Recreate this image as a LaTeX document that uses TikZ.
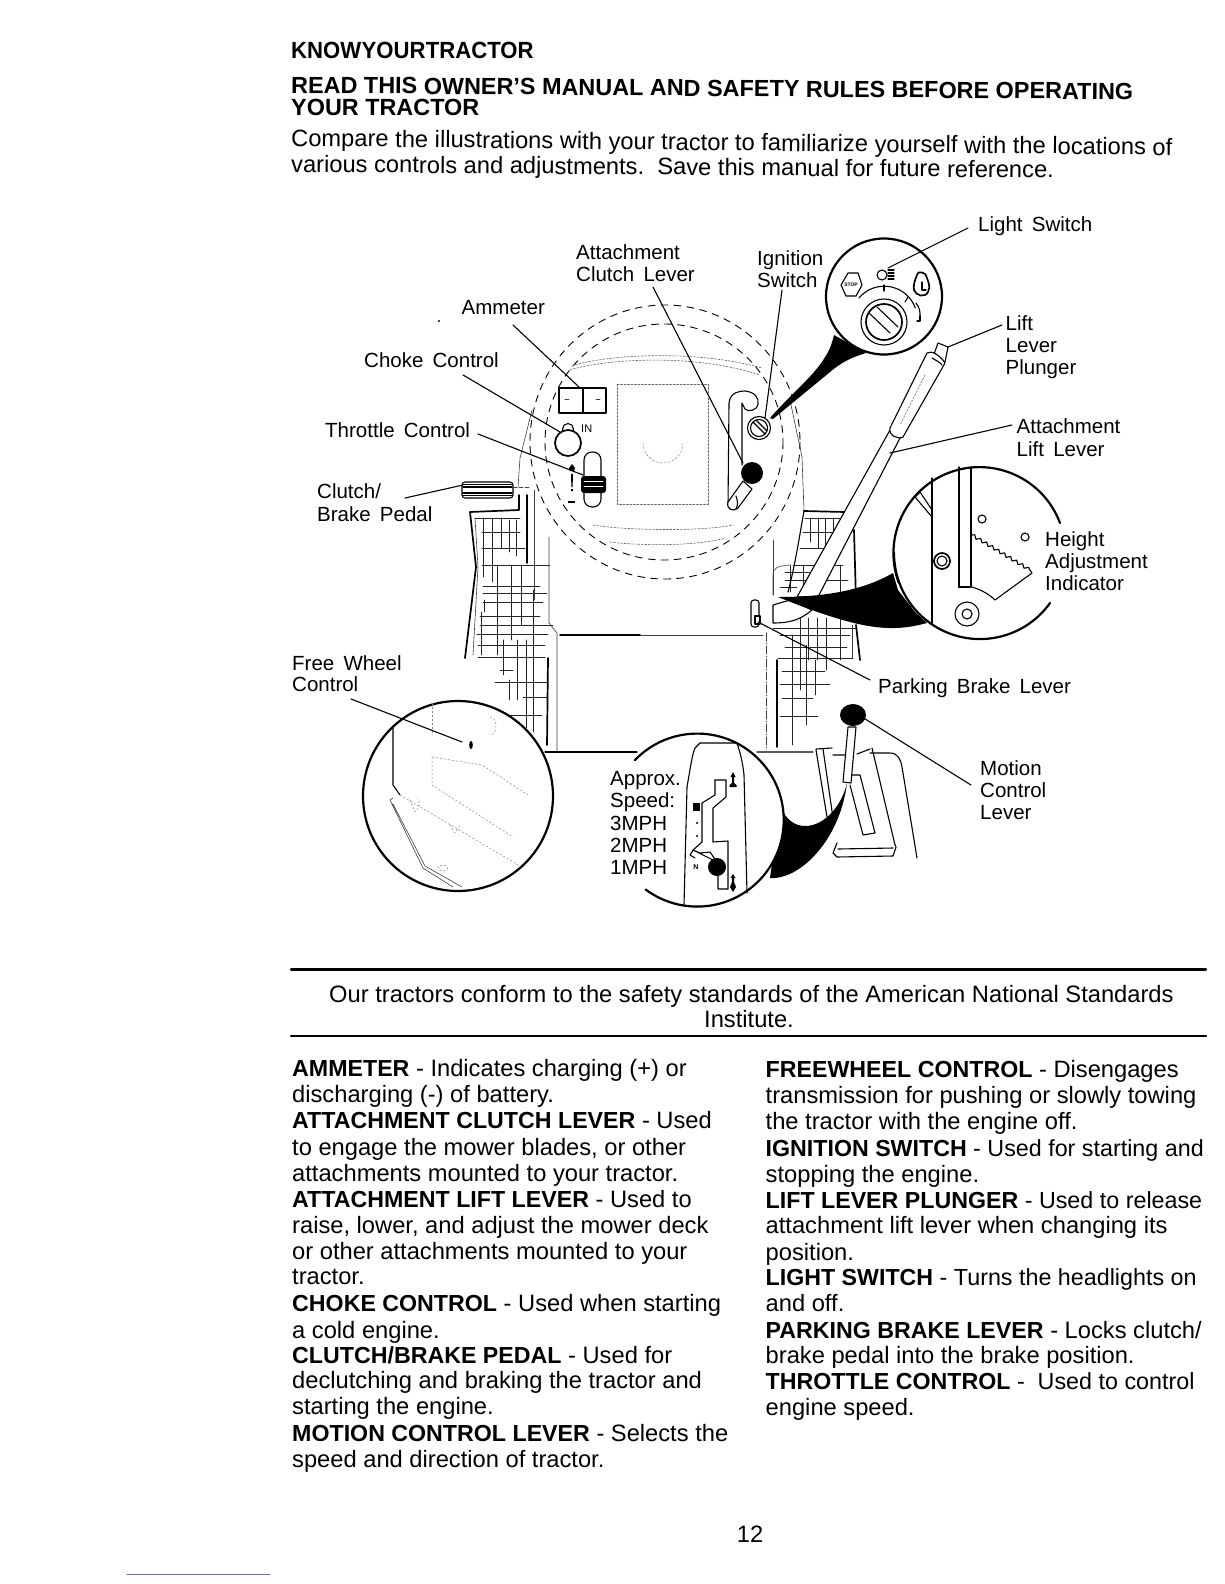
\documentclass[tikz,border=0pt]{standalone}
\usepackage{fontspec}
\setmainfont{Liberation Sans}
\usetikzlibrary{decorations.pathmorphing}
\newcommand\lab[4]{\node[lbl] (#1) at (#2,#3) {\spaceskip=.45em\relax #4};}
\newcommand\bod[4]{\node[bodyt] (#1) at (#2,#3) {#4};}
\newcommand\bodn[4]{\node[bodyt,font=\fontsize{23.3}{26}\selectfont] (#1) at (#2,#3) {#4};}
\newcommand\bb[1]{{\fontsize{23.2}{26}\selectfont\bfseries #1}}
\tikzset{
 lbl/.style={anchor=base west,inner sep=0pt,font=\fontsize{20.5}{22}\selectfont},
 bodyt/.style={anchor=base west,inner sep=0pt,font=\fontsize{23.7}{26}\selectfont},
 head/.style={anchor=base west,inner sep=0pt,font=\fontsize{23.4}{26}\selectfont\bfseries},
 leader/.style={line width=1.1pt},
 thinl/.style={line width=0.6pt,black!75},
 dotl/.style={line width=0.6pt,black!60,dash pattern=on 2pt off 1.5pt},
 faintl/.style={line width=0.5pt,black!45,dash pattern=on 2pt off 2pt},
 ringl/.style={line width=0.9pt,dash pattern=on 7pt off 6pt},
 gridl/.style={line width=0.9pt,black!85},
 lens/.style={line width=2.2pt},
 ink/.style={line width=1.1pt},
 heavy/.style={line width=1.7pt},
 rulel/.style={line width=2.2pt}
}
\begin{document}
\begin{tikzpicture}[x=1pt,y=1pt,yscale=-1,line cap=round,line join=round]
\useasboundingbox (0,0) rectangle (1224,1584);
\fill[white] (0,0) rectangle (1224,1584);
% ---------- left fender grid
\foreach \a/\b/\c in {475/520/518,482/520/532,482/525/548,482/550/565,483/540/586,483/547/593,483/543/602,480/540/616,480/553/625,477/548/634,478/545/645,478/545/657,500/513/670,495/547/682,523/547/697,507/542/715}
  \draw[gridl] (\a,\c)--(\b,\c);
\foreach \a/\b/\c in {483/518/577,492/518/582,501/518/548,509/520/552,516/520/556,497/565/655,511/565/640,503/640/675,517/640/700,509/680/700,526/640/728,533/590/732,484/600/612,521/565/625,481/612/655}
  \draw[gridl] (\a,\b)--(\a,\c);
% ---------- right fender grid
\foreach \a/\b/\c in {805/843/518,803/840/532,800/830/548,793/843/565,785/825/572,785/848/580,780/797/587,773/857/628,780/850/635,785/847/647,778/853/658,782/825/671,780/830/684,782/813/698,780/818/716}
  \draw[gridl] (\a,\c)--(\b,\c);
\foreach \a/\b/\c in {810/518/542,818/518/548,825/518/548,833/518/540,790/565/592,803/565/590,840/565/600,800/618/665,808/618/660,817/618/660,826/618/670,840/610/660,792/635/745,800/660/690,806/645/725,815/660/695}
  \draw[gridl] (\a,\b)--(\a,\c);
% ---------- left fender outline
\draw[heavy] (519,495)--(519,510)--(470,512)--(476,567)--(465,658);
\draw[heavy] (527,495)--(527,563);
\draw[thinl] (475,518)--(478,567)--(473,655);
\draw[thinl] (534,490)--(534,600);
\draw[thinl] (549,537)--(549,623)--(557,633)--(557,752);
\draw[heavy] (548,658)--(547,745);
\draw[thinl] (532,410)--(520,458)--(518,487);
% ---------- seat / centre
\draw[heavy] (560,635)--(640,635);
\draw[thinl] (640,635)--(763,635);
\draw[ink] (545,752)--(637,752);
\draw[thinl,dash pattern=on 8pt off 2pt on 1pt off 2pt] (766,633)--(766,750);
\draw[heavy] (777,660)--(777,747);
% ---------- right fender outline
\draw[thinl] (790,400)--(802,457)--(804,511);
\draw[heavy] (804,511)--(845,512);
\draw[heavy] (854,530)--(856,600);
\draw[heavy] (856,625)--(860,660);
\draw[thinl] (852,625)--(852,658);
\draw[ink] (804,511)..controls (798,545) and (795,565)..(788,592);
\draw[thinl] (773,540)--(773,595);
\draw[thinl] (773,595)--(773,575)..controls (773,568) and (777,566)..(790,565);
% ---------- dashed instrument rings
\draw[ringl] (665,442) ellipse [x radius=135,y radius=137];
\draw[ringl] (664,442) ellipse [x radius=119,y radius=118];
\draw[dotl] (570,370)..controls (600,360) and (690,352)..(760,375);
\draw[dotl] (572,366)..controls (600,356) and (690,348)..(762,368);
\draw[dotl] (593,525)..controls (620,530) and (700,532)..(733,525);
\draw[dotl] (610,542)..controls (640,546) and (700,546)..(725,538);
% ---------- centre rectangle and dial
\draw[dotl] (617,384) rectangle (708,504);
\draw[faintl] (643,443) arc[start angle=180,end angle=120,radius=20];
\draw[faintl] (683,443) arc[start angle=0,end angle=150,radius=20];
% ---------- ammeter
\draw[heavy,fill=white] (559,388) rectangle (606,413);
\draw[ink] (583,388)--(583,413);
\draw[thinl] (565,399)--(569,399) (596,399)--(600,399);
% ---------- choke
\draw[ink,fill=white] (568,429) circle [radius=5.5];
\draw[heavy,fill=white] (568,443) circle [radius=13];
\node[anchor=base west,inner sep=0pt,font=\fontsize{11}{12}\selectfont] (chokeN) at (581,432) {IN};
% ---------- throttle
\draw[ink,fill=white,rounded corners=8pt] (584,452) rectangle (601,507);
\fill[black,rounded corners=3pt] (581,476) rectangle (606,493);
\draw[white,line width=0.8pt] (584,481)--(603,481) (584,486)--(603,486);
\fill (569,468)--(572,464)--(575,468)--(574,471)--(570,471)--cycle;
\fill (571,474)--(573,474)--(572.6,487)--(571.4,487)--cycle (571,489) rectangle (573,491);
\fill (568,501) rectangle (575,503);
% ---------- attachment clutch lever slot
\draw[ink] (728,505)--(729,403)..controls (730,392) and (740,391)..(745,391)..controls (755,392) and (759,398)..(758,404)..controls (757,411) and (748,412)..(745,409)--(742,403)--(742,465);
\draw[ink,fill=white] (743,481)--(728,502)..controls (726,510) and (734,512)..(738,508)--(752,489)--cycle;
\draw[ink] (736,496)..controls (738,502) and (738,505)..(736,509);
\fill (752,473) circle [radius=11];
% ---------- ignition on dash
\draw[ink,fill=white] (759,428) circle [radius=11.5];
\draw[ink] (759,428) circle [radius=8.5];
\draw[ink] (753,422)--(765,434) (756,420)--(767,431);
% ---------- clutch pedal
\draw[ink,fill=white,rounded corners=3pt] (462,482) rectangle (513,498);
\foreach \y in {484.5,487,493,495.5} \draw[ink] (463,\y)--(512,\y);
\draw[thinl,dash pattern=on 4pt off 2pt] (513,487)--(530,487);
% ---------- lift lever
\draw[ink,fill=white] (797,597)--(890,430)--(900,438)--(818,597)--cycle;
\draw[ink,fill=white] (933,357)--(938,343)--(948,347)--(945,362)--cycle;
\draw[ink,fill=white] (927,353)..controls (931,350) and (940,355)..(945,363)--(903,437)..controls (898,440) and (888,435)..(890,428)--cycle;
\draw[ink] (932,358)..controls (935,360) and (940,362)..(942,365);
\draw[dotl] (925,375)--(900,425);
% ---------- parking brake small lever and pedal
\draw[ink,fill=white] (773,605)--(773,623)..controls (790,623) and (800,620)..(812,610)--(790,600)--cycle;
\draw[ink,fill=white,rounded corners=3pt] (751,600) rectangle (759,627);
\draw[ink,fill=white] (755,616) rectangle (760,624);
% ---------- motion console
\draw[ink] (757,752)--(813,752) (833,755)--(845,755) (857,754)--(870,749) (870,753)--(890,753)..controls (898,753) and (901,760)..(902,767)--(917,858);
\draw[ink] (816,749)--(832,748) (816,750)--(827,817) (823,749)--(833,818) (872,748)--(895,845);
\draw[ink] (852,775)--(860,775)--(875,833)--(863,835)--(850,785);
\draw[ink] (837,843)--(833,853)--(837,857)--(893,856)--(896,847)--(895,845);
\draw[ink] (838,849)--(893,848);
\draw[ink,fill=white] (848,727)--(843,782)--(851,783)--(856,727)--cycle;
\fill (853,715) ellipse [x radius=13,y radius=11];
% ---------- black wedges
\fill (770,418)..controls (790,395) and (815,375)..(825,357)..controls (830,350) and (832,343)..(834,335)--(866,353)..controls (850,358) and (842,362)..(830,372)--(773,419)--cycle;
\fill (778,597)..controls (820,597) and (860,592)..(893,573)--(898,590)--(915,612)--(927,623)..controls (890,633) and (860,630)..(778,597)--cycle;
\fill (847,783)..controls (842,805) and (825,826)..(805,826)..controls (795,826) and (786,820)..(780,806)--(770,878)..controls (800,880) and (840,840)..(847,783)--cycle;
% ---------- ignition lens
\draw[lens,fill=white] (884,296.5) circle [radius=58];
\draw[ink] (841,285)--(848,273)--(858,273)--(862,285)--(856,296)--(846,296)--cycle;
\node[inner sep=0pt,font=\bfseries\fontsize{5}{5}\selectfont] (stopT) at (851,285) {STOP};
\draw[ink] (882,275) circle [radius=5];
\draw[ink] (888,270)--(894,270) (888,273)--(894,273) (888,276)--(894,276) (888,279)--(894,279);
\draw[ink] (859,298) arc[start angle=220,end angle=340,radius=33];
\draw[ink] (920,316)--(920,321)--(917,321);
\draw[ink] (884,285)--(884,291);
\draw[ink] (908,297)--(905,302);
\draw[ink] (916,303)..controls (920,308) and (920,312)..(920,316);
\draw[heavy] (917,275)..controls (915,280) and (913,285)..(914,290)..controls (916,296) and (925,298)..(928,292)..controls (931,286) and (928,282)..(927,278)..controls (927,272) and (917,270)..(917,275)--cycle;
\draw[ink] (922,282)--(922,290)--(926,290);
\draw[ink] (884,322) circle [radius=23];
\draw[heavy] (884,322) circle [radius=18];
\draw[ink] (869,313)--(890,333) (877,307)--(898,327);
% ---------- height lens
\fill[white] (980,553) circle [radius=86];
\draw[lens] (1060,523) arc[start angle=-20.5,end angle=-200,radius=86];
\draw[lens] (1050,603) arc[start angle=35.5,end angle=180,radius=86];
\draw[ink] (932,478)--(932,623);
\draw[ink] (920,492)--(932,510) (915,497)--(932,517);
\draw[ink] (915,497)--(920,492);
\draw[ink] (959,467)--(959,587)--(971,587)--(971,467);
\draw[line width=2.4pt] (959,528)--(959,587);
\draw[ink] (982,519) circle [radius=4];
\draw[ink] (1025,537) circle [radius=4];
\draw[ink,decorate,decoration={snake,amplitude=1.6pt,segment length=7pt}] (972,535)--(1030,570);
\draw[ink] (1030,570)--(1032,573)--(995,600)..controls (990,595) and (982,590)..(972,587);
\draw[heavy] (942,561) circle [radius=8];
\draw[ink] (942,561) circle [radius=5];
\draw[ink] (967,614) circle [radius=12];
\draw[ink] (967,614) circle [radius=5];
% ---------- free wheel lens
\fill[white] (458,796) circle [radius=95];
\draw[lens] (458,796) circle [radius=95];
\draw[ink] (393,728)--(393,785)--(400,795);
\draw[thinl] (390,800)--(393,798) (390,800)--(423,868)--(453,887) (393,804)--(425,866)--(462,887);
\draw[faintl] (432,703)--(432,735);
\draw[faintl] (432,757)--(432,785)--(513,837);
\draw[faintl] (432,757)--(482,765)--(528,795);
\draw[faintl] (400,795)--(520,866);
\draw[faintl] (490,717)..controls (498,717) and (498,735)..(490,735);
\draw[faintl] (410,800)--(415,812)--(420,805)--(418,798);
\draw[faintl] (450,825)--(455,833)--(460,825);
\draw[faintl] (443,868) ellipse [x radius=5,y radius=3];
\fill (471,745) ellipse [x radius=1.8,y radius=4];
% ---------- motion lens
\fill[white] (697,820) circle [radius=86];
\draw[lens] (635,760) arc[start angle=224,end angle=486.6,radius=86.5];
\draw[ink] (684,905)--(687,787)..controls (690,770) and (692,755)..(695,748)--(700,743)--(737,743)..controls (741,755) and (743,765)..(744,775)--(747,893);
\draw[ink] (715,780)--(726,780)--(726,797)--(713,808)--(713,842)--(728,841)--(728,889)--(718,889)--(718,873);
\draw[ink] (715,780)--(715,795)--(702,803)--(702,842)--(693,850)--(690,855)--(695,858);
\draw[ink,fill=white] (693,850)--(717,862)--(710,852)--(700,853)--cycle;
\fill (717,867) circle [radius=9];
\node[inner sep=0pt,font=\bfseries\fontsize{7}{7}\selectfont] (nMark) at (696,867) {N};
\fill (693,803) rectangle (700,811);
\fill (697,823) circle [radius=1.2] (697,836) circle [radius=1.2];
\fill (733,772)--(735.5,777)--(734,777)--(734,783)--(736.5,785)--(736.5,787)--(729.5,787)--(729.5,785)--(732,783)--(732,777)--(730.5,777)--cycle;
\fill (733,874)--(735.5,878)--(734,878)--(734,882)--(736,887)--(733,892)--(730,887)--(732,882)--(732,878)--(730.5,878)--cycle;
% ---------- stray mark
\fill (439,321) circle [radius=1.1];
% ---------- heading
\node[head,xscale=0.945] (h1) at (291,58.5) {\spaceskip=0.02em\relax KNOW YOUR TRACTOR};
\node[head,rotate=-0.45] (h2) at (291,93) {READ THIS OWNER'S MANUAL AND SAFETY RULES BEFORE OPERATING};
\node[head] (h3) at (291,116) {YOUR TRACTOR};
\node[bodyt,rotate=-0.6] (h4) at (291,146) {Compare the illustrations with your tractor to familiarize yourself with the locations of};
\node[bodyt,rotate=-0.45] (h5) at (291,172) {various controls and adjustments.\ \ Save this manual for future reference.};
% ---------- labels
\lab{lLight}{978}{231}{Light Switch}
\lab{lAcl1}{576}{259.5}{Attachment}
\lab{lAcl2}{576}{281}{Clutch Lever}
\lab{lIgn1}{757}{265.5}{Ignition}
\lab{lIgn2}{757}{287.5}{Switch}
\lab{lAmm}{461.5}{314}{Ammeter}
\lab{lLlp1}{1005.5}{330}{Lift}
\lab{lLlp2}{1005.5}{352.5}{Lever}
\lab{lLlp3}{1005.5}{374}{Plunger}
\lab{lChoke}{364}{367.5}{Choke Control}
\lab{lThr}{325}{437.5}{Throttle Control}
\lab{lAll1}{1016.5}{433}{Attachment}
\lab{lAll2}{1016.5}{456}{Lift Lever}
\lab{lCb1}{317}{498}{Clutch/}
\lab{lCb2}{317}{521}{Brake Pedal}
\lab{lH1}{1045}{546.5}{Height}
\lab{lH2}{1045}{568}{Adjustment}
\lab{lH3}{1045}{590}{Indicator}
\lab{lFw1}{292}{670}{Free Wheel}
\lab{lFw2}{292}{691}{Control}
\lab{lPb}{878}{693}{Parking Brake Lever}
\lab{lMc1}{980}{775}{Motion}
\lab{lMc2}{980}{797}{Control}
\lab{lMc3}{980}{819}{Lever}
\lab{lSp1}{610}{785.5}{Approx.}
\lab{lSp2}{610}{807.5}{Speed:}
\lab{lSp3}{610}{830}{3MPH}
\lab{lSp4}{610}{852}{2MPH}
\lab{lSp5}{610}{874}{1MPH}
% ---------- leaders
\coordinate (a1) at (968,228); \coordinate (a2) at (888,268);
\coordinate (b1) at (653,287); \coordinate (b2) at (743,463);
\coordinate (c1) at (782,290); \coordinate (c2) at (765,418);
\coordinate (d1) at (513,325); \coordinate (d2) at (579,387);
\coordinate (e1) at (1002,325); \coordinate (e2) at (948,347);
\coordinate (f1) at (463,375); \coordinate (f2) at (560,432);
\coordinate (g1) at (1012,425); \coordinate (g2) at (890,453);
\coordinate (i1) at (478,434); \coordinate (i2) at (583,475);
\coordinate (j1) at (405,498); \coordinate (j2) at (463,485);
\coordinate (k1) at (351,699); \coordinate (k2) at (462,742);
\coordinate (m1) at (870,680); \coordinate (m2) at (758,622);
\coordinate (n1) at (971,785); \coordinate (n2) at (862,717);
\foreach \p/\q in {a1/a2,b1/b2,c1/c2,d1/d2,e1/e2,f1/f2,g1/g2,i1/i2,j1/j2,k1/k2,m1/m2,n1/n2}
  \draw[leader] (\p)--(\q);
% ---------- rules and notice
\draw[rulel] (291,969.5)--(1206,969.5);
\draw[rulel] (291,1036)--(1206,1036);
\bod{tN1}{329}{1002}{Our tractors conform to the safety standards of the American National Standards}
\node[bodyt,anchor=base] (tN2) at (749,1027) {Institute.};
% ---------- left column
\bod{l1}{292}{1076}{\bb{AMMETER} - Indicates charging (+) or}
\bod{l2}{292}{1102}{discharging (-) of battery.}
\bod{l3}{292}{1128.5}{\bb{ATTACHMENT CLUTCH LEVER} - Used}
\bod{l4}{292}{1155}{to engage the mower blades, or other}
\bod{l5}{292}{1181}{attachments mounted to your tractor.}
\bod{l6}{292}{1207}{\bb{ATTACHMENT LIFT LEVER} - Used to}
\bod{l7}{292}{1233.5}{raise, lower, and adjust the mower deck}
\bod{l8}{292}{1259}{or other attachments mounted to your}
\bod{l9}{292}{1284}{tractor.}
\bod{l10}{292}{1311}{\bb{CHOKE CONTROL} - Used when starting}
\bod{l11}{292}{1338}{a cold engine.}
\bod{l12}{292}{1363}{\bb{CLUTCH/BRAKE PEDAL} - Used for}
\bod{l13}{292}{1388}{declutching and braking the tractor and}
\bod{l14}{292}{1414}{starting the engine.}
\bod{l15}{292}{1441.5}{\bb{MOTION CONTROL LEVER} - Selects the}
\bod{l16}{292}{1467}{speed and direction of tractor.}
% ---------- right column
\bod{r1}{765.5}{1077}{\bb{FREEWHEEL CONTROL} - Disengages}
\bod{r2}{765.5}{1103}{transmission for pushing or slowly towing}
\bod{r3}{765.5}{1129.5}{the tractor with the engine off.}
\bodn{r4}{765.5}{1156}{\bb{IGNITION SWITCH} - Used for starting and}
\bod{r5}{765.5}{1182}{stopping the engine.}
\bodn{r6}{765.5}{1208}{\bb{LIFT LEVER PLUNGER} - Used to release}
\bod{r7}{765.5}{1233.5}{attachment lift lever when changing its}
\bod{r8}{765.5}{1260}{position.}
\bodn{r9}{765.5}{1285}{\bb{LIGHT SWITCH} - Turns the headlights on}
\bod{r10}{765.5}{1311}{and off.}
\bod{r11}{765.5}{1338}{\bb{PARKING BRAKE LEVER} - Locks clutch/}
\bod{r12}{765.5}{1363}{brake pedal into the brake position.}
\bodn{r13}{765.5}{1389}{\bb{THROTTLE CONTROL} -\ \ Used to control}
\bod{r14}{765.5}{1415}{engine speed.}
\node[bodyt,anchor=base] (pg) at (750,1542) {12};
\draw[blue!70!black!60,line width=0.8pt] (127,1574)--(270,1574);
\end{tikzpicture}
\end{document}
